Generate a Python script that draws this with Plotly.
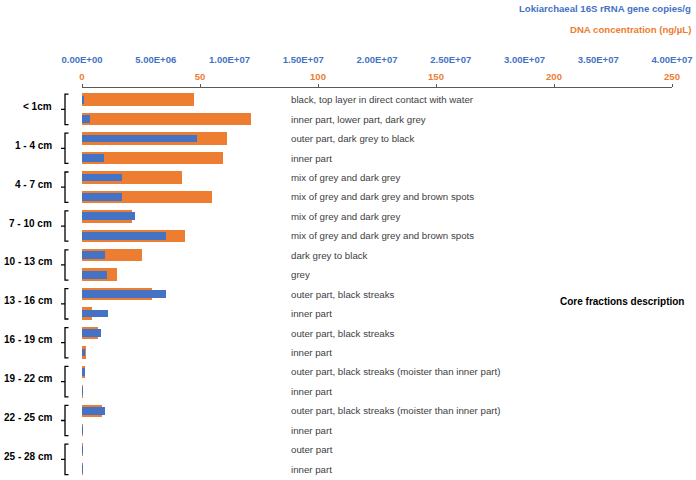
import plotly.graph_objects as go

# ---- data ----
depth_labels = ["< 1cm", "1 - 4 cm", "4 - 7 cm", "7 - 10 cm", "10 - 13 cm",
                "13 - 16 cm", "16 - 19 cm", "19 - 22 cm", "22 - 25 cm", "25 - 28 cm"]
descriptions = [
    "black, top layer in direct contact with water",
    "inner part, lower part, dark grey",
    "outer part, dark grey to black",
    "inner part",
    "mix of grey and dark grey",
    "mix of grey and dark grey and brown spots",
    "mix of grey and dark grey",
    "mix of grey and dark grey and brown spots",
    "dark grey to black",
    "grey",
    "outer part, black streaks",
    "inner part",
    "outer part, black streaks",
    "inner part",
    "outer part, black streaks (moister than inner part)",
    "inner part",
    "outer part, black streaks (moister than inner part)",
    "inner part",
    "outer part",
    "inner part",
]
dna_conc = [47.6, 71.6, 61.6, 59.6, 42.5, 55.2, 21.2, 43.6, 25.4, 14.7,
            29.5, 4.1, 6.6, 1.5, 1.4, 0.2, 8.3, 0.1, 0.3, 0.15]
loki_copies = [0.1e6, 0.54e6, 7.8e6, 1.5e6, 2.73e6, 2.7e6, 3.6e6, 5.67e6, 1.58e6, 1.72e6,
               5.67e6, 1.74e6, 1.27e6, 0.22e6, 0.2e6, 0.04e6, 1.54e6, 0.02e6, 0.06e6, 0.02e6]
dna_ticks = [0, 50, 100, 150, 200, 250]
loki_ticks = [0, 5e6, 1e7, 1.5e7, 2e7, 2.5e7, 3e7, 3.5e7, 4e7]

ORANGE = "#ED7D31"
BLUE = "#4472C4"
FONT = "Liberation Sans, Arial, sans-serif"

W, H = 696, 480
ML, MR, MT, MB = 82, 24, 88, 0
PW = W - ML - MR
PH = H - MT - MB

rows = list(range(len(descriptions)))

fig = go.Figure()
fig.add_trace(go.Bar(
    y=rows, x=dna_conc, orientation="h", xaxis="x", yaxis="y",
    marker=dict(color=ORANGE, line=dict(width=0)), width=0.64,
    name="DNA concentration (ng/µL)", showlegend=False))
fig.add_trace(go.Bar(
    y=rows, x=loki_copies, orientation="h", xaxis="x2", yaxis="y",
    marker=dict(color=BLUE, line=dict(width=0)), width=0.40,
    name="Lokiarchaeal 16S rRNA gene copies/g", showlegend=False))

def px2paper_x(px):
    return (px - ML) / PW

def px2paper_y(py):
    return 1 - (py - MT) / PH

annotations = []
for i, d in enumerate(descriptions):
    annotations.append(dict(
        x=px2paper_x(289), xref="paper", y=i, yref="y", text=d, showarrow=False,
        xanchor="left", yanchor="middle",
        font=dict(family=FONT, size=9.7, color="#404040")))

shapes = []
for k, lab in enumerate(depth_labels):
    top = 2 * k - 0.28
    bot = 2 * k + 1 + 0.28
    mid = 2 * k + 0.5
    xv = px2paper_x(65)
    xr = px2paper_x(68.5)
    xl = px2paper_x(61)
    path = (f"M {xr},{top} L {xv},{top} L {xv},{mid} L {xl},{mid} "
            f"M {xv},{mid} L {xv},{bot} L {xr},{bot}")
    shapes.append(dict(type="path", xref="paper", yref="y", path=path,
                       line=dict(color="black", width=1.3)))
    annotations.append(dict(
        x=px2paper_x(54), xref="paper", y=mid, yref="y", text=lab, showarrow=False,
        xanchor="right", yanchor="middle", yshift=3,
        font=dict(family=FONT, size=10, color="black", weight="bold")))

annotations.append(dict(
    x=px2paper_x(686), xref="paper", y=px2paper_y(301.7), yref="paper",
    text="Core fractions description", showarrow=False, xanchor="right", yanchor="middle",
    font=dict(family=FONT, size=10, color="black", weight="bold")))
annotations.append(dict(
    x=px2paper_x(693), xref="paper", y=px2paper_y(8.5), yref="paper",
    text="Lokiarchaeal 16S rRNA gene copies/g", showarrow=False, xanchor="right", yanchor="middle",
    font=dict(family=FONT, size=9.6, color=BLUE, weight="bold")))
annotations.append(dict(
    x=px2paper_x(693), xref="paper", y=px2paper_y(29.5), yref="paper",
    text="DNA concentration (ng/µL)", showarrow=False, xanchor="right", yanchor="middle",
    font=dict(family=FONT, size=9.6, color=ORANGE, weight="bold")))

fig.update_layout(
    width=W, height=H,
    margin=dict(l=ML, r=MR, t=MT, b=MB, pad=0),
    paper_bgcolor="white", plot_bgcolor="white",
    barmode="overlay",
    bargap=0,
    xaxis=dict(range=[0, 250], side="top", tickvals=dna_ticks,
               ticktext=[str(v) for v in dna_ticks],
               ticks="outside", ticklen=3, tickcolor="#595959", tickwidth=1,
               showline=True, linecolor="#595959", linewidth=1,
               showgrid=False, zeroline=False,
               tickfont=dict(family=FONT, size=9.5, color=ORANGE, weight="bold")),
    xaxis2=dict(range=[0, 4e7], side="top", overlaying="x", anchor="y",
                tickvals=loki_ticks, ticktext=[f"{v:.2E}" for v in loki_ticks],
                ticks="", showline=False, showgrid=False, zeroline=False,
                ticklabelstandoff=22,
                tickfont=dict(family=FONT, size=9.5, color=BLUE, weight="bold")),
    yaxis=dict(range=[19.56, -0.6], showticklabels=False, ticks="",
               showgrid=False, zeroline=False, showline=False),
    annotations=annotations,
    shapes=shapes,
)

fig.write_html("out.html",
               config={"displayModeBar": False},
               post_script="document.body.style.margin='0px';document.body.style.overflow='hidden';")
